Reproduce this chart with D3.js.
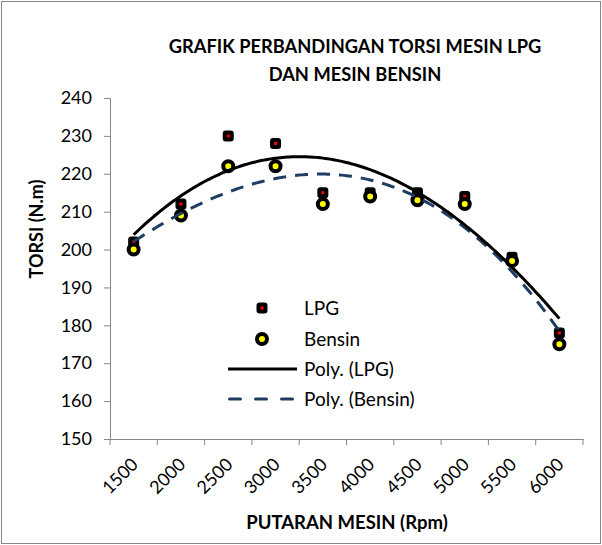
<!DOCTYPE html>
<html>
<head>
<meta charset="utf-8">
<script src="https://cdn.jsdelivr.net/npm/d3@7"></script>
<style>
  body { margin: 0; background: #fff; }
  text { font-family: Lato, "Open Sans", sans-serif; }
</style>
</head>
<body>
<div id="chart"></div>
<script>
const WIDTH = 602;
const HEIGHT = 545;

// data
const rpm = [1500, 2000, 2500, 3000, 3500, 4000, 4500, 5000, 5500, 6000];
const lpg = [202, 212, 230, 228, 215, 215, 215, 214, 198, 178];
const bensin = [200, 209, 222, 222, 212, 214, 213, 212, 197, 175];
const yTicks = [150, 160, 170, 180, 190, 200, 210, 220, 230, 240];
const legendItems = ["LPG", "Bensin", "Poly. (LPG)", "Poly. (Bensin)"];
const POLY_ORDER = 3;

const margin = { left: 110, right: 19, top: 98, bottom: 106 };

const svg = d3.select("#chart").append("svg")
    .attr("width", WIDTH)
    .attr("height", HEIGHT);

// chart frame
svg.append("rect")
    .attr("x", 1.5).attr("y", 1.5)
    .attr("width", WIDTH - 3).attr("height", HEIGHT - 3)
    .attr("fill", "#fff")
    .attr("stroke", "#868686");

const x = d3.scaleBand()
    .domain(rpm)
    .range([margin.left, WIDTH - margin.right]);

const y = d3.scaleLinear()
    .domain([150, 240])
    .range([HEIGHT - margin.bottom, margin.top]);

// axes
const yAxis = svg.append("g")
    .attr("transform", `translate(${margin.left},0)`)
    .call(d3.axisLeft(y).tickValues(yTicks).tickSize(6).tickPadding(12));

const xAxis = svg.append("g")
    .attr("transform", `translate(0,${HEIGHT - margin.bottom})`)
    .call(d3.axisBottom(x).tickSize(0).tickFormat(d => d));

// category boundary ticks like Excel
const bounds = rpm.map(d => x(d)).concat([x(rpm[rpm.length - 1]) + x.bandwidth()]);
xAxis.selectAll(".bound")
    .data(bounds)
    .enter()
    .append("line")
    .attr("class", "bound")
    .attr("x1", d => d).attr("x2", d => d)
    .attr("y1", 0).attr("y2", 6)
    .attr("stroke", "#868686");

svg.selectAll(".domain").attr("stroke", "#868686");
yAxis.selectAll(".tick line").attr("stroke", "#868686");
yAxis.selectAll("text").style("font-size", "18px").attr("fill", "#000");

xAxis.selectAll(".tick text")
    .style("font-size", "18px")
    .attr("fill", "#000")
    .attr("text-anchor", "end")
    .attr("dy", "0.35em")
    .attr("transform", "translate(-1,20) rotate(-45)");

// least squares polynomial trend through category index (1..n), as Excel does
function polyFit(vals, order) {
    const n = order + 1;
    const A = [];
    for (let r = 0; r < n; r++) A.push(new Array(n + 1).fill(0));
    vals.forEach((v, i) => {
        const xi = i + 1;
        for (let r = 0; r < n; r++) {
            for (let c = 0; c < n; c++) A[r][c] += Math.pow(xi, r + c);
            A[r][n] += v * Math.pow(xi, r);
        }
    });
    for (let i = 0; i < n; i++) {
        for (let j = i + 1; j < n; j++) {
            const f = A[j][i] / A[i][i];
            for (let k = i; k <= n; k++) A[j][k] -= f * A[i][k];
        }
    }
    const c = new Array(n).fill(0);
    for (let i = n - 1; i >= 0; i--) {
        let s = A[i][n];
        for (let k = i + 1; k < n; k++) s -= A[i][k] * c[k];
        c[i] = s / A[i][i];
    }
    return xi => c.reduce((a, ck, k) => a + ck * Math.pow(xi, k), 0);
}

const idx = d3.scaleLinear()
    .domain([1, rpm.length])
    .range([x(rpm[0]) + x.bandwidth() / 2, x(rpm[rpm.length - 1]) + x.bandwidth() / 2]);

function trendPoints(vals) {
    const f = polyFit(vals, POLY_ORDER);
    const pts = [];
    for (let t = 1; t <= rpm.length + 1e-9; t += 0.05) pts.push([t, f(t)]);
    return pts;
}

const line = d3.line()
    .x(d => idx(d[0]))
    .y(d => y(d[1]));

// markers
const cx = d => x(d) + x.bandwidth() / 2;

svg.append("g").selectAll("rect")
    .data(rpm)
    .enter()
    .append("rect")
    .attr("x", (d) => cx(d) - 3.5)
    .attr("y", (d, i) => y(lpg[i]) - 3.5)
    .attr("width", 7).attr("height", 7)
    .attr("rx", 1)
    .attr("fill", "#ff0000")
    .attr("stroke", "#000")
    .attr("stroke-width", 4)
    .attr("stroke-linejoin", "round");

svg.append("g").selectAll("circle")
    .data(rpm)
    .enter()
    .append("circle")
    .attr("cx", d => cx(d))
    .attr("cy", (d, i) => y(bensin[i]))
    .attr("r", 5)
    .attr("fill", "#ffff00")
    .attr("stroke", "#000")
    .attr("stroke-width", 4);

svg.append("path")
    .datum(trendPoints(bensin))
    .attr("d", line)
    .attr("fill", "none")
    .attr("stroke", "#1f3d63")
    .attr("stroke-width", 3)
    .attr("stroke-dasharray", "13,9");

svg.append("path")
    .datum(trendPoints(lpg))
    .attr("d", line)
    .attr("fill", "none")
    .attr("stroke", "#000")
    .attr("stroke-width", 3);

// titles
const title = svg.append("text")
    .attr("x", 355)
    .attr("y", 53)
    .attr("text-anchor", "middle")
    .style("font-size", "18.3px")
    .style("font-weight", "bold");
title.append("tspan").attr("x", 355).text("GRAFIK PERBANDINGAN TORSI MESIN LPG");
title.append("tspan").attr("x", 355).attr("dy", 28).text("DAN MESIN BENSIN");

svg.append("text")
    .attr("transform", "translate(43,229) rotate(-90)")
    .attr("text-anchor", "middle")
    .style("font-size", "18px")
    .style("font-weight", "bold")
    .text("TORSI (N.m)");

svg.append("text")
    .attr("x", 347)
    .attr("y", 529)
    .attr("text-anchor", "middle")
    .style("font-size", "18.5px")
    .style("font-weight", "bold")
    .text("PUTARAN MESIN (Rpm)");

// legend
const legY = [308, 339, 369, 399];
const leg = svg.append("g");
legendItems.forEach((name, i) => {
    const g = leg.append("g").attr("transform", `translate(0,${legY[i]})`);
    if (i === 0) {
        g.append("rect").attr("x", 258.5).attr("y", -3.5).attr("width", 7).attr("height", 7)
            .attr("rx", 1).attr("fill", "#ff0000").attr("stroke", "#000").attr("stroke-width", 4);
    } else if (i === 1) {
        g.append("circle").attr("cx", 262).attr("cy", 0).attr("r", 5)
            .attr("fill", "#ffff00").attr("stroke", "#000").attr("stroke-width", 4);
    } else {
        g.append("line").attr("x1", i === 3 ? 229.5 : 228).attr("x2", 297).attr("y1", 0).attr("y2", 0)
            .attr("stroke", i === 2 ? "#000" : "#1f3d63")
            .attr("stroke-width", 3)
            .attr("stroke-linecap", i === 3 ? "round" : "butt")
            .attr("stroke-dasharray", i === 3 ? "11,15" : null);
    }
    g.append("text")
        .attr("x", 304)
        .attr("y", 0)
        .attr("dy", "0.35em")
        .style("font-size", "19px")
        .text(name);
});
</script>
</body>
</html>
